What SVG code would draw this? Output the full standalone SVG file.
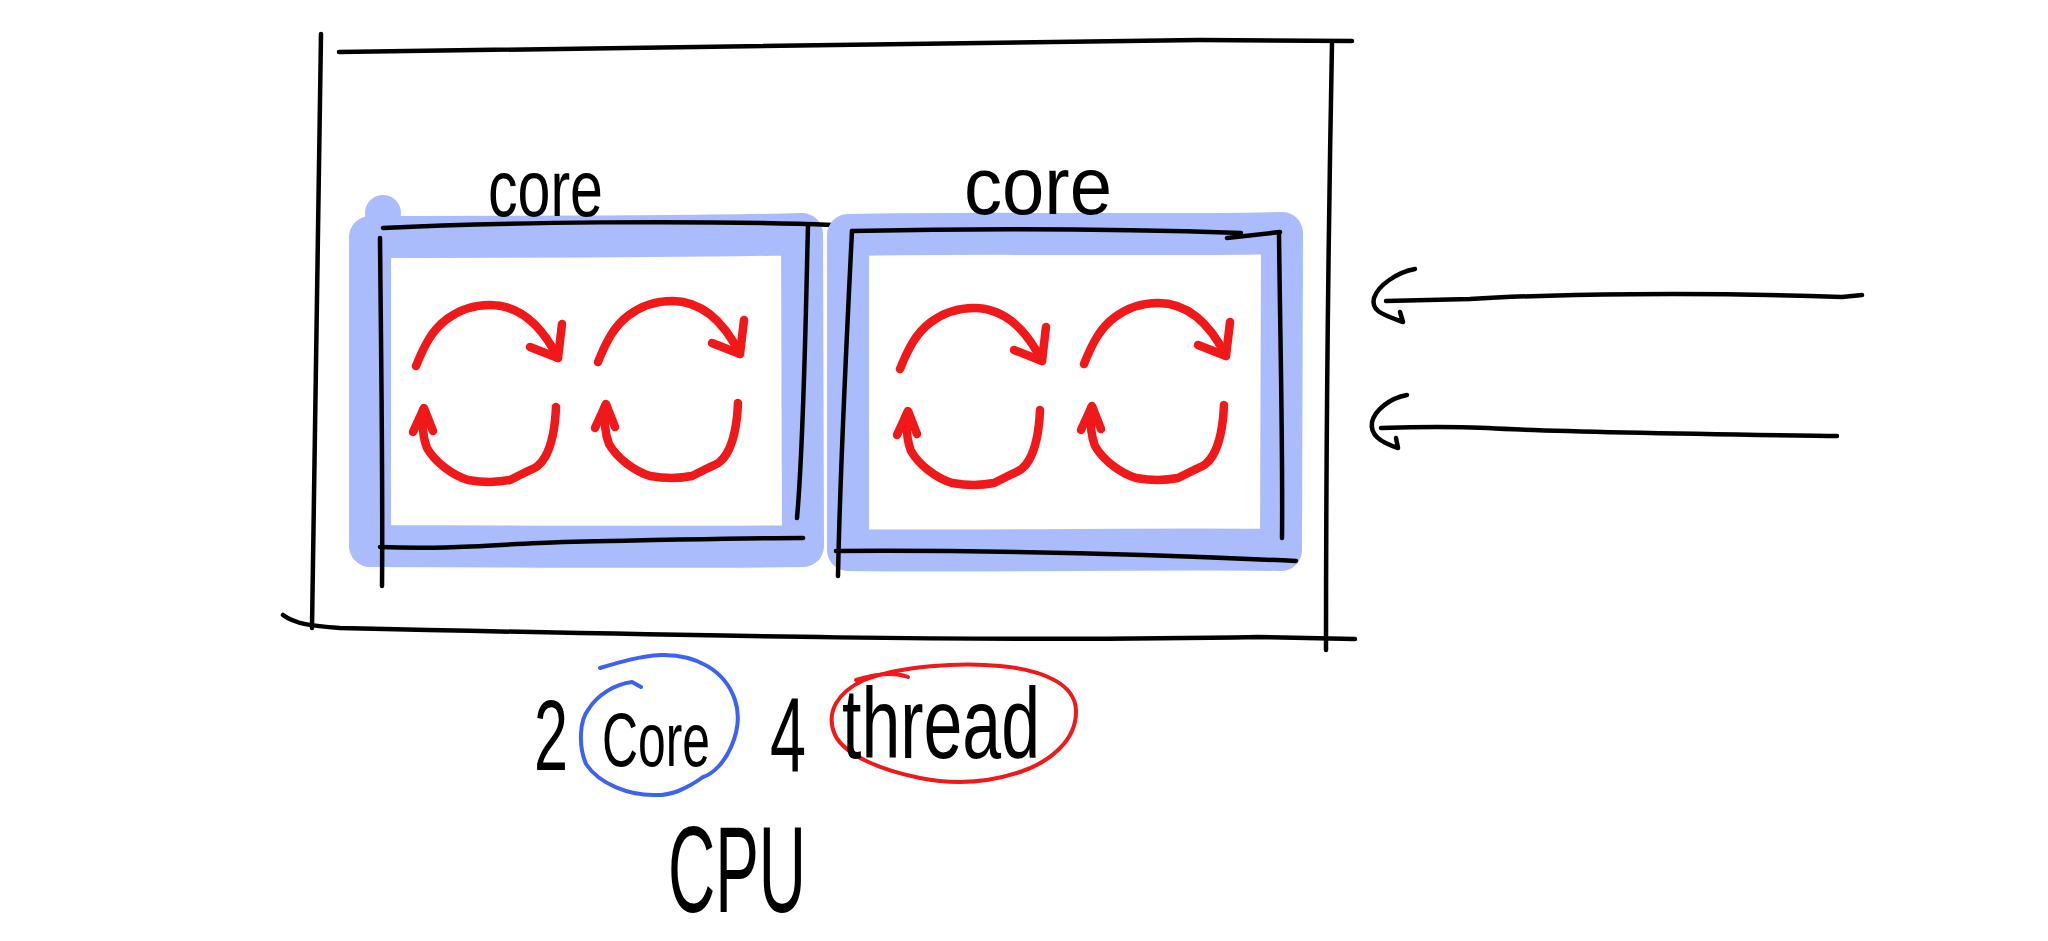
<svg xmlns="http://www.w3.org/2000/svg" xmlns:xlink="http://www.w3.org/1999/xlink" width="2048" height="941" viewBox="0 0 2048 941">
<style>
.ink{fill:none;stroke:#000;stroke-width:4.5;stroke-linecap:round;stroke-linejoin:round}
.band{fill:none;stroke:#abbcfc;stroke-width:42;stroke-linecap:round;stroke-linejoin:round}
.red{fill:none;stroke:#f01818;stroke-width:8.5;stroke-linecap:round;stroke-linejoin:round}
.redthin{fill:none;stroke:#f01818;stroke-width:4;stroke-linecap:round;stroke-linejoin:round}
.bluethin{fill:none;stroke:#3d62f2;stroke-width:4;stroke-linecap:round;stroke-linejoin:round}
.hand{font-family:"Liberation Sans","DejaVu Sans",sans-serif;fill:#000}
</style>
<defs>
<g id="thread">
<path class="red" d="M6,66 C14,46 22,30 37,19 C52,8 67,5 80,5 C108,5 130,22 148,58"/>
<path class="red" d="M120,47 L148,58 L152,24"/>
<path class="red" d="M146,107 C145,130 142,145 135,157 C130,166 125,168 118,171 L100,180 C85,183 70,182 58,180 C42,175 25,162 17,148 C13,138 12,125 13,110"/>
<path class="red" d="M3,132 L14,108 L23,131"/>
</g>
</defs>
<rect width="2048" height="941" fill="#fff"/>

<g id="cpu">
<path class="ink" d="M321,34 C318,200 316,400 312,628"/>
<path class="ink" d="M339,52 C600,50 900,44 1200,40 L1352,41"/>
<path class="ink" d="M1332,43 C1329,200 1326,400 1326,650"/>
<path class="ink" d="M283,615 C295,624 312,626 340,628 C700,636 1000,642 1258,637 L1355,639"/>
</g>

<g id="core1">
<path class="band" d="M370,237 C500,236 650,238 802,234 L803,546 C650,548 500,546 370,546 Z"/>
<circle cx="383" cy="213" r="18" fill="#abbcfc"/>
<path class="ink" d="M383,228 C500,222 700,220 832,225"/>
<path class="ink" d="M808,225 C806,300 804,440 797,518"/>
<path class="ink" d="M380,238 C381,350 383,480 382,586"/>
<path class="ink" d="M380,547 C450,550 500,544 563,542 C650,540 740,538 803,538"/>
<use xlink:href="#thread" href="#thread" x="410" y="300"/>
<use xlink:href="#thread" href="#thread" x="592" y="296"/>
<text class="hand" x="488" y="216" font-size="80" textLength="115" lengthAdjust="spacingAndGlyphs">core</text>
</g>

<g id="core2">
<path class="band" d="M848,235 C1000,232 1150,236 1282,233 L1281,550 C1150,548 1000,552 848,550 Z"/>
<path class="ink" d="M852,231 C1000,228 1150,230 1241,233"/>
<path class="ink" d="M1227,238 L1280,232"/>
<path class="ink" d="M1279,233 C1280,330 1283,450 1282,538"/>
<path class="ink" d="M852,231 C846,350 840,470 838,576"/>
<path class="ink" d="M836,551 C1000,550 1150,554 1296,561"/>
<use xlink:href="#thread" href="#thread" x="894" y="303"/>
<use xlink:href="#thread" href="#thread" x="1078" y="298"/>
<text class="hand" x="964" y="214" font-size="82" textLength="148" lengthAdjust="spacingAndGlyphs">core</text>
</g>

<g id="summary">
<text class="hand" x="534" y="770" font-size="100" textLength="34" lengthAdjust="spacingAndGlyphs">2</text>
<path class="bluethin" d="M600,668 C620,662 640,656 661,655 C695,654 725,670 735,700 C745,730 725,770 703,777 C685,790 670,796 653,795 C630,795 600,785 586,764 C578,745 580,720 588,710 C597,695 615,684 632,682 L641,687"/>
<text class="hand" x="602" y="766" font-size="76" textLength="108" lengthAdjust="spacingAndGlyphs">Core</text>
<text class="hand" x="770" y="772" font-size="106" textLength="36" lengthAdjust="spacingAndGlyphs">4</text>
<path class="redthin" d="M864,680 C900,666 960,662 1000,666 C1045,670 1075,685 1076,710 C1077,740 1050,762 1020,772 C990,782 955,785 920,778 C880,770 845,755 835,735 C825,712 838,692 864,680"/>
<path class="redthin" d="M856,680 C875,674 895,672 908,677"/>
<text class="hand" x="842" y="758" font-size="100" textLength="198" lengthAdjust="spacingAndGlyphs">thread</text>
<text class="hand" x="668" y="912" font-size="122" textLength="138" lengthAdjust="spacingAndGlyphs">CPU</text>
</g>

<g id="connectors">
<path class="ink" d="M1862,295 L1842,297 C1700,292 1550,294 1470,299 L1386,301"/>
<path class="ink" d="M1415,269 C1398,272 1378,285 1374,298 C1371,310 1380,314 1403,322 L1400,312"/>
<path class="ink" d="M1837,436 C1700,434 1550,432 1488,428 C1440,426 1410,427 1381,428"/>
<path class="ink" d="M1407,395 C1390,398 1375,410 1372,422 C1370,435 1380,442 1398,448 L1396,438"/>
</g>
</svg>
